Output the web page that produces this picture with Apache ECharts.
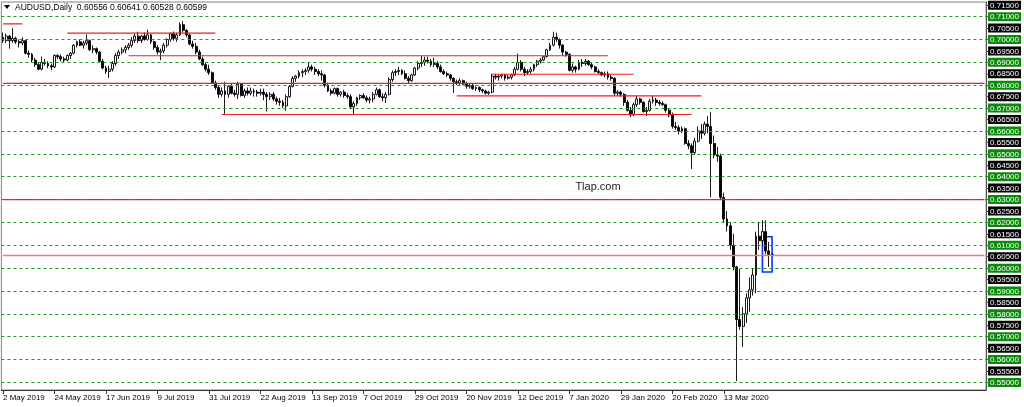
<!DOCTYPE html>
<html>
<head>
<meta charset="utf-8">
<script src="https://cdn.jsdelivr.net/npm/echarts@6/dist/echarts.min.js"></script>
<style>html,body{margin:0;padding:0;background:#fff;}#c{width:1024px;height:407px;}</style>
</head>
<body>
<div id="c"></div>
<script>
// ---- data ----
// each candle: [open, high, low, close]
const candles = [
[.7010,.7030,.6985,.6995],[.6995,.7025,.6985,.7015],[.7015,.7020,.6960,.6995],[.6995,.7050,.6985,.7005],
[.7005,.7012,.6980,.6990],[.6990,.7000,.6965,.6985],[.6985,.7010,.6975,.6995],[.6995,.6998,.6935,.6940],
[.6940,.6952,.6920,.6935],[.6935,.6940,.6900,.6910],[.6910,.6920,.6880,.6890],[.6890,.6900,.6865,.6870],
[.6870,.6925,.6865,.6900],[.6900,.6915,.6885,.6895],[.6895,.6905,.6875,.6885],[.6885,.6895,.6865,.6880],
[.6880,.6935,.6875,.6930],[.6930,.6935,.6915,.6925],[.6925,.6935,.6905,.6915],[.6915,.6925,.6900,.6910],
[.6910,.6935,.6905,.6930],[.6930,.6945,.6915,.6940],[.6940,.6980,.6935,.6975],[.6975,.6995,.6965,.6990],
[.6990,.7000,.6970,.6975],[.6975,.6995,.6960,.6985],[.6985,.7022,.6975,.6995],[.6995,.7000,.6950,.6955],
[.6955,.6975,.6940,.6960],[.6960,.6965,.6935,.6945],[.6945,.6950,.6900,.6905],[.6905,.6915,.6870,.6875],
[.6875,.6885,.6850,.6860],[.6860,.6885,.6832,.6870],[.6870,.6905,.6860,.6895],[.6895,.6940,.6885,.6930],
[.6930,.6955,.6915,.6945],[.6945,.6965,.6935,.6955],[.6955,.6975,.6940,.6965],[.6965,.6985,.6955,.6975],
[.6975,.7010,.6965,.6995],[.6995,.7025,.6985,.7015],[.7015,.7034,.6985,.6995],[.6995,.7020,.6985,.7015],
[.7015,.7030,.6995,.7000],[.7000,.7043,.6995,.7020],[.7020,.7025,.6980,.6990],[.6990,.6995,.6955,.6965],
[.6965,.6975,.6935,.6945],[.6945,.6960,.6910,.6950],[.6950,.6985,.6940,.6975],[.6975,.7005,.6965,.7000],
[.7000,.7030,.6990,.7025],[.7025,.7035,.6995,.7005],[.7005,.7030,.6990,.7020],[.7020,.7075,.7015,.7065],
[.7065,.7080,.7030,.7040],[.7040,.7045,.7010,.7020],[.7020,.7025,.6975,.6980],[.6980,.6995,.6960,.6970],
[.6970,.6985,.6935,.6945],[.6945,.6955,.6910,.6915],[.6915,.6925,.6885,.6890],[.6890,.6900,.6860,.6870],
[.6870,.6890,.6845,.6855],[.6855,.6860,.6805,.6810],[.6810,.6820,.6780,.6790],[.6790,.6800,.6745,.6760],
[.6760,.6790,.6750,.6775],[.6775,.6815,.6675,.6760],[.6760,.6800,.6745,.6795],[.6795,.6810,.6760,.6765],
[.6765,.6780,.6750,.6760],[.6760,.6815,.6740,.6805],[.6805,.6810,.6750,.6755],[.6755,.6785,.6745,.6775],
[.6775,.6790,.6755,.6765],[.6765,.6790,.6755,.6775],[.6775,.6785,.6750,.6770],[.6770,.6780,.6750,.6765],
[.6765,.6785,.6755,.6770],[.6770,.6785,.6735,.6760],[.6760,.6770,.6685,.6750],[.6750,.6770,.6735,.6760],
[.6760,.6770,.6730,.6740],[.6740,.6750,.6715,.6730],[.6730,.6745,.6710,.6725],[.6725,.6735,.6700,.6710],
[.6710,.6760,.6688,.6750],[.6750,.6800,.6745,.6795],[.6795,.6840,.6790,.6830],[.6830,.6845,.6815,.6840],
[.6840,.6865,.6830,.6855],[.6855,.6870,.6835,.6860],[.6860,.6875,.6845,.6865],[.6865,.6898,.6855,.6880],
[.6880,.6890,.6860,.6870],[.6870,.6880,.6845,.6860],[.6860,.6870,.6840,.6850],[.6850,.6865,.6820,.6845],
[.6845,.6850,.6790,.6800],[.6800,.6810,.6770,.6775],[.6775,.6785,.6755,.6765],[.6765,.6790,.6760,.6785],
[.6785,.6790,.6750,.6760],[.6760,.6775,.6750,.6770],[.6770,.6780,.6745,.6755],[.6755,.6765,.6740,.6750],
[.6750,.6760,.6695,.6705],[.6705,.6730,.6671,.6720],[.6720,.6750,.6710,.6745],[.6745,.6760,.6735,.6755],
[.6755,.6765,.6740,.6745],[.6745,.6755,.6725,.6735],[.6735,.6750,.6720,.6740],[.6740,.6770,.6725,.6760],
[.6760,.6790,.6755,.6780],[.6780,.6785,.6745,.6750],[.6750,.6765,.6730,.6745],[.6745,.6770,.6722,.6760],
[.6760,.6835,.6755,.6825],[.6825,.6865,.6815,.6855],[.6855,.6870,.6840,.6860],[.6860,.6880,.6845,.6865],
[.6865,.6870,.6845,.6850],[.6850,.6865,.6825,.6830],[.6830,.6840,.6810,.6820],[.6820,.6850,.6815,.6845],
[.6845,.6880,.6840,.6875],[.6875,.6905,.6865,.6895],[.6895,.6930,.6880,.6900],[.6900,.6925,.6885,.6910],
[.6910,.6925,.6895,.6905],[.6905,.6915,.6880,.6890],[.6890,.6920,.6880,.6895],[.6895,.6905,.6870,.6880],
[.6880,.6890,.6855,.6860],[.6860,.6870,.6845,.6850],[.6850,.6860,.6835,.6845],[.6845,.6850,.6820,.6830],
[.6830,.6835,.6766,.6815],[.6815,.6825,.6800,.6810],[.6810,.6830,.6800,.6820],[.6820,.6825,.6800,.6805],
[.6805,.6815,.6785,.6795],[.6795,.6810,.6785,.6800],[.6800,.6805,.6780,.6785],[.6785,.6795,.6775,.6790],
[.6790,.6795,.6770,.6780],[.6780,.6785,.6765,.6775],[.6775,.6780,.6759,.6765],[.6765,.6775,.6758,.6770],
[.6770,.6850,.6765,.6840],[.6840,.6850,.6825,.6835],[.6835,.6845,.6820,.6840],[.6840,.6850,.6830,.6845],
[.6845,.6850,.6820,.6830],[.6830,.6845,.6825,.6835],[.6835,.6850,.6825,.6845],[.6845,.6880,.6840,.6870],
[.6870,.6938,.6865,.6900],[.6900,.6910,.6860,.6870],[.6870,.6880,.6840,.6855],[.6855,.6870,.6845,.6860],
[.6860,.6880,.6850,.6870],[.6870,.6895,.6860,.6890],[.6890,.6910,.6880,.6905],[.6905,.6920,.6895,.6910],
[.6910,.6930,.6905,.6925],[.6925,.6960,.6920,.6955],[.6955,.6985,.6950,.6975],[.6975,.7034,.6970,.7010],
[.7010,.7030,.6990,.7000],[.7000,.7005,.6960,.6975],[.6975,.6980,.6930,.6945],[.6945,.6950,.6925,.6935],
[.6935,.6940,.6860,.6865],[.6865,.6895,.6855,.6880],[.6880,.6885,.6855,.6870],[.6870,.6910,.6865,.6900],
[.6900,.6915,.6880,.6895],[.6895,.6915,.6885,.6905],[.6905,.6910,.6885,.6890],[.6890,.6900,.6870,.6880],
[.6880,.6885,.6855,.6860],[.6860,.6870,.6850,.6855],[.6855,.6860,.6840,.6845],[.6845,.6860,.6835,.6850],
[.6850,.6860,.6825,.6835],[.6835,.6845,.6820,.6830],[.6830,.6835,.6755,.6765],[.6765,.6780,.6755,.6770],
[.6770,.6775,.6750,.6760],[.6760,.6765,.6710,.6725],[.6725,.6735,.6685,.6690],[.6690,.6705,.6660,.6670],
[.6670,.6725,.6665,.6715],[.6715,.6755,.6705,.6740],[.6740,.6745,.6715,.6725],[.6725,.6730,.6680,.6685],
[.6685,.6705,.6665,.6690],[.6690,.6740,.6685,.6730],[.6730,.6755,.6720,.6735],[.6735,.6745,.6710,.6725],
[.6725,.6735,.6710,.6720],[.6720,.6730,.6710,.6715],[.6715,.6720,.6680,.6690],[.6690,.6700,.6660,.6670],
[.6670,.6680,.6610,.6620],[.6620,.6640,.6605,.6615],[.6615,.6625,.6585,.6600],[.6600,.6620,.6590,.6610],
[.6610,.6615,.6540,.6545],[.6545,.6560,.6520,.6535],[.6535,.6545,.6434,.6505],[.6505,.6570,.6495,.6555],
[.6555,.6620,.6550,.6600],[.6600,.6630,.6565,.6590],[.6590,.6640,.6580,.6630],[.6630,.6665,.6590,.6620],
[.6620,.6684,.6310,.6545],[.6545,.6580,.6480,.6495],[.6495,.6530,.6465,.6490],[.6490,.6500,.6300,.6310],
[.6310,.6330,.6200,.6215],[.6215,.6250,.6160,.6185],[.6185,.6200,.6080,.6100],[.6100,.6150,.5990,.6005],
[.6005,.6010,.5506,.5775],[.5775,.5995,.5730,.5745],[.5745,.5830,.5655,.5800],[.5800,.5890,.5760,.5870],
[.5870,.5960,.5810,.5905],[.5905,.6000,.5880,.5970],[.5970,.6160,.5890,.6140],[.6140,.6200,.6080,.6120],
[.6120,.6210,.6100,.6160],[.6160,.6209,.6060,.6075],[.6075,.6115,.6005,.6060],[.60556,.60641,.60528,.60599]
];
const firstDay = '2019-05-02';
const closedDays = ['2019-12-25', '2020-01-01'];
const emptySlots = 66; // empty space right of the last bar
const labelEvery = 16;
const priceTicks = [0.715,0.710,0.705,0.700,0.695,0.690,0.685,0.680,0.675,0.670,0.665,0.660,0.655,0.650,
  0.645,0.640,0.635,0.630,0.625,0.620,0.615,0.610,0.605,0.600,0.595,0.590,0.585,0.580,0.575,0.570,
  0.565,0.560,0.555,0.550];
const gridLevels = [0.71,0.70,0.69,0.68,0.67,0.66,0.65,0.64,0.63,0.62,0.61,0.60,0.59,0.58,0.57,0.56,0.55];
const fullRedLevels = [0.6808, 0.6300];
const bidLevel = 0.6055;
// [fromBar, toBar, price]
const srSegments = [[0,6,0.7068],[20,66,0.7028],[39,188,0.6929],[152,196,0.6848],[141,217,0.6753],[68,214,0.6672]];
const boxBars = [236, 239];
const boxPrices = [0.6137, 0.5983];
const headerText = 'AUDUSD,Daily  0.60556 0.60641 0.60528 0.60599';
const watermark = 'Tlap.com';

// ---- build categories ----
const MON = ['Jan','Feb','Mar','Apr','May','Jun','Jul','Aug','Sep','Oct','Nov','Dec'];
const cats = [];
let d = new Date(firstDay + 'T00:00:00Z');
while (cats.length < candles.length) {
  const wd = d.getUTCDay();
  const iso = d.toISOString().slice(0,10);
  if (wd !== 0 && wd !== 6 && closedDays.indexOf(iso) < 0) {
    cats.push(d.getUTCDate() + ' ' + MON[d.getUTCMonth()] + ' ' + d.getUTCFullYear());
  }
  d = new Date(d.getTime() + 86400000);
}
const nBars = cats.length;
for (let i = 0; i < emptySlots; i++) cats.push('pad' + i);
const lastSlot = cats.length - 1;

const FONT = 'Liberation Sans';
const RED = '#f01e1e';
const GREEN = '#1e9a1e';
const chart = echarts.init(document.getElementById('c'));

function hLine(from, to, v, color, width, z) {
  return {
    type: 'line', silent: true, z: z, symbol: 'none', showSymbol: false, animation: false,
    lineStyle: {color: color, width: width, type: 'solid'},
    itemStyle: {color: color},
    data: [[from, v], [to, v]]
  };
}

const showIdx = (idx) => idx < nBars && idx % labelEvery === 0;

const series = [
  {
    type: 'line', data: [], silent: true, color: GREEN, z: 1,
    markLine: {silent: true, symbol: ['none', 'none'], label: {show: false}, animation: false, precision: 5,
      lineStyle: {color: GREEN, type: [3, 3], width: 1},
      data: gridLevels.map(v => ({yAxis: v}))}
  },
  {
    type: 'candlestick',
    barWidth: 2.4,
    z: 3,
    data: candles.map(c => [c[0], c[3], c[2], c[1]]),
    itemStyle: {color: '#ffffff', color0: '#000000', borderColor: '#000000', borderColor0: '#000000', borderWidth: 0.9}
  }
];
fullRedLevels.forEach(v => series.push(hLine(0, lastSlot, v, RED, 1.2, 4)));
srSegments.forEach(s => series.push(hLine(s[0], s[1], s[2], RED, 1.2, 4)));
const bid = hLine(0, lastSlot, bidLevel, '#f07a7a', 1.5, 4);
bid.markArea = {
  silent: true,
  itemStyle: {color: 'rgba(0,0,0,0)', borderColor: '#0a32ff', borderWidth: 1.6},
  data: [[{coord: [boxBars[0], boxPrices[0]]}, {coord: [boxBars[1], boxPrices[1]]}]]
};
series.push(bid);

chart.setOption({
  animation: false,
  backgroundColor: '#ffffff',
  grid: {left: 1, right: 37, top: 2, bottom: 17, show: true, borderColor: '#808080', borderWidth: 1, backgroundColor: '#ffffff'},
  xAxis: {
    type: 'category',
    data: cats,
    boundaryGap: true,
    axisLine: {lineStyle: {color: '#333', width: 1}},
    axisTick: {show: true, interval: showIdx, alignWithLabel: true, length: 4, lineStyle: {color: '#333'}},
    axisLabel: {interval: showIdx, align: 'left', margin: 4, fontSize: 8, color: '#000', fontFamily: FONT},
    splitLine: {show: false}
  },
  yAxis: {
    type: 'value',
    position: 'right',
    min: 0.5467,
    max: 0.7164,
    splitLine: {show: false},
    axisLine: {show: true, lineStyle: {color: '#555'}},
    axisTick: {show: true, length: 2, customValues: priceTicks, lineStyle: {color: '#555'}},
    axisLabel: {
      customValues: priceTicks,
      margin: 2,
      fontFamily: FONT,
      fontSize: 8,
      formatter: function (v) {
        const s = Number(v).toFixed(5);
        const isMajor = Math.round(v * 1000) % 10 === 0;
        return (isMajor ? '{g|' : '{b|') + s + '}';
      },
      rich: {
        g: {backgroundColor: '#0a8a0a', color: '#fff', fontSize: 8, fontFamily: FONT, padding: [1, 2, 0, 2], lineHeight: 8},
        b: {backgroundColor: '#000', color: '#fff', fontSize: 8, fontFamily: FONT, padding: [1, 2, 0, 2], lineHeight: 8}
      }
    }
  },
  series: series,
  graphic: [
    {type: 'polygon', shape: {points: [[4, 5], [10, 5], [7, 9]]}, style: {fill: '#000'}, z: 100},
    {type: 'text', x: 15, y: 8, style: {text: headerText, fill: '#000', font: '8.5px "' + FONT + '"', textVerticalAlign: 'middle'}, z: 100},
    {type: 'text', x: 598, y: 187, style: {text: watermark, fill: '#222', font: '11px "' + FONT + '"', textAlign: 'center', textVerticalAlign: 'middle'}, z: 100}
  ]
});
</script>
</body>
</html>
